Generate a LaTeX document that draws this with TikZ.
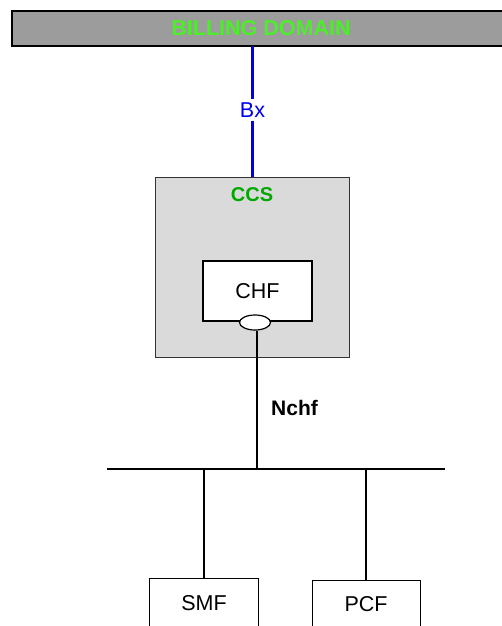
\documentclass[tikz,border=0pt]{standalone}
\usepackage{fontspec}
\setmainfont{Liberation Sans}
\usetikzlibrary{shapes.geometric,patterns}
\definecolor{billgreen}{HTML}{4CEE2A}
\definecolor{ccsgreen}{HTML}{00A800}
\definecolor{bxblue}{HTML}{0000EE}
\definecolor{bargray}{HTML}{9C9C9C}
\definecolor{ccsgray}{HTML}{DADADA}
\begin{document}
\begin{tikzpicture}[x=1pt,y=-1pt,
  lbl/.style={font=\fontsize{21.5}{24}\selectfont, inner sep=0pt},
  nfbox/.style={draw=black, line width=1.2pt, fill=white},
  wire/.style={draw=black, line width=1.6pt}]
\useasboundingbox (0,0) rectangle (501,626);
% billing domain bar
\fill[bargray] (12,11) rectangle (505,46);
\draw[line width=1.4pt] (505,11) -- (12,11) -- (12,46) -- (505,46);
\node[lbl, font=\fontsize{21.5}{24}\selectfont\bfseries, text=billgreen] (bd) at (261,28) {BILLING DOMAIN};
\coordinate (bdb) at (252.5,46);
% CCS
\draw[fill=ccsgray, draw=black!80, line width=0.8pt] (155,177) rectangle (349,357);
\coordinate (ccst) at (252.5,177);
\node[lbl, font=\fontsize{20}{22}\selectfont\bfseries, text=ccsgreen] (ccs) at (252,195) {CCS};
% Bx
\node[lbl, text=bxblue, inner sep=3pt] (bx) at (252.5,110) {Bx};
\draw[bxblue, line width=3pt] (bdb) -- (bx.north);
\draw[bxblue, line width=3pt] (bx.south) -- (ccst);
% CHF
\node[nfbox, minimum width=109pt, minimum height=60pt, lbl] (chf) at (257.5,291) {CHF};
\node[draw=black, line width=1.2pt, fill=white, ellipse, minimum width=31pt, minimum height=15pt, inner sep=0pt] (ep) at (255,322.5) {};
% bus
\coordinate (busl) at (107,469);
\coordinate (busr) at (445,469);
\coordinate (busc) at (257,469);
\coordinate (buss) at (204,469);
\coordinate (busp) at (366.2,469);
\draw[wire] (busl) -- (busr);
\draw[wire] (ep.south -| busc) -- (busc);
\node[lbl, font=\fontsize{21}{23}\selectfont\bfseries, anchor=west] (nchf) at (271,408) {Nchf};
% SMF, PCF
\node[nfbox, lbl, anchor=north, minimum width=109pt, minimum height=60pt] (smf) at (204,578) {};
\node[lbl] (smft) at (204,603) {SMF};
\node[nfbox, lbl, anchor=north, minimum width=108pt, minimum height=60pt] (pcf) at (366.5,580) {};
\node[lbl] (pcft) at (366,604) {PCF};
\draw[wire] (buss) -- (smf.north);
\draw[wire] (busp) -- (busp |- pcf.north);
\end{tikzpicture}
\end{document}
